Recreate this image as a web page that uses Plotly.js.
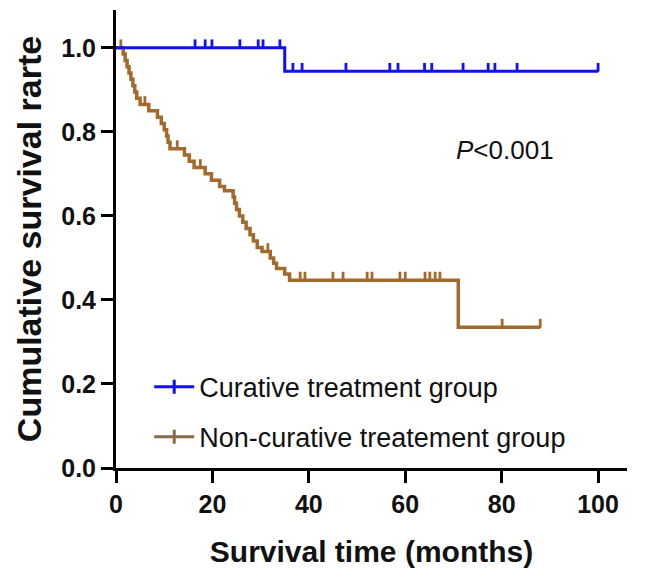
<!DOCTYPE html>
<html>
<head>
<meta charset="utf-8">
<script src="https://cdn.plot.ly/plotly-3.0.1.min.js"></script>
<style>html,body{margin:0;padding:0;background:#fff;}#chart{width:646px;height:573px;}</style>
</head>
<body>
<div id="chart"></div>
<script>
// ---- Data ----
var seriesNames = ["Curative treatment group", "Non-curative treatement group"];

// Curative group: event times (months) and survival after each event
var curEventTimes = [35];
var curSurvival = [0.944];
var curCensorTimes = [16.4, 18.5, 19.9, 25.7, 29.5, 30.5, 34, 36.7, 38.6, 47.7, 56.8, 58.5, 64, 65.5, 72, 77.2, 78.6, 83.2, 100];

// Non-curative group: event times (months) and survival after each event
var nonEventTimes = [1.5, 1.9, 2.3, 2.7, 3.1, 3.5, 3.9, 4.3, 5.0, 6.8, 8.6, 9.4, 10.0, 10.5, 10.8, 11.2, 14.2, 15.2, 16.2, 18.5, 19.8, 21.5, 22.5, 24.3, 24.6, 25.0, 25.6, 26.3, 27.0, 27.8, 28.5, 29.3, 30.3, 32.0, 32.7, 33.3, 35.0, 36.0, 71.0];
var nonSurvival = [0.985, 0.97, 0.955, 0.94, 0.925, 0.91, 0.895, 0.88, 0.865, 0.85, 0.835, 0.82, 0.805, 0.79, 0.775, 0.76, 0.745, 0.73, 0.715, 0.70, 0.685, 0.67, 0.66, 0.645, 0.63, 0.615, 0.60, 0.585, 0.57, 0.555, 0.54, 0.525, 0.515, 0.50, 0.487, 0.475, 0.462, 0.447, 0.335];
var nonCensorTimes = [1.0, 6.0, 12.7, 17.5, 31.5, 38.2, 39.2, 45, 47.1, 52.1, 53.1, 58.9, 60, 64.1, 65.1, 66.2, 67.2, 80.1, 88];

var xTicks = [0, 20, 40, 60, 80, 100];
var yTicks = [0, 0.2, 0.4, 0.6, 0.8, 1.0];
var pText = "<i>P</i>&lt;0.001";

// ---- Styles ----
var blue = "#1010f0";
var brown = "#a26a2c";
var fontFam = "Liberation Sans, Arial, Helvetica, sans-serif";
var tickUp = 0.02;

function stepSeries(times, surv, censors) {
  var last = Math.max.apply(null, censors.concat(times));
  var x = [0].concat(times);
  var y = [1].concat(surv);
  x.push(last);
  y.push(surv[surv.length - 1]);
  return {x: x, y: y};
}
function survAt(times, surv, t) {
  var s = 1;
  for (var i = 0; i < times.length; i++) { if (times[i] <= t) s = surv[i]; }
  return s;
}
function censorTrace(times, surv, censors, color) {
  return {
    x: censors,
    y: censors.map(function (t) { return survAt(times, surv, t); }),
    mode: "markers", type: "scatter", showlegend: false, hoverinfo: "skip",
    marker: {size: 2, color: color},
    error_y: {type: "data", symmetric: false,
      array: censors.map(function () { return tickUp; }),
      arrayminus: censors.map(function () { return 0; }),
      width: 0, thickness: 2.8, color: color}
  };
}

var curStep = stepSeries(curEventTimes, curSurvival, curCensorTimes);
var nonStep = stepSeries(nonEventTimes, nonSurvival, nonCensorTimes);

var traces = [
  {x: nonStep.x, y: nonStep.y, mode: "lines", type: "scatter", line: {shape: "hv", color: brown, width: 3.5}, showlegend: false, hoverinfo: "skip"},
  censorTrace(nonEventTimes, nonSurvival, nonCensorTimes, brown),
  {x: curStep.x, y: curStep.y, mode: "lines", type: "scatter", line: {shape: "hv", color: blue, width: 3}, showlegend: false, hoverinfo: "skip"},
  censorTrace(curEventTimes, curSurvival, curCensorTimes, blue),
  {x: [null], y: [null], mode: "lines+markers", type: "scatter", name: seriesNames[0], legendgroup: "a",
   line: {color: blue, width: 3}, marker: {symbol: "line-ns-open", size: 10, color: blue, line: {width: 3, color: blue}}},
  {x: [null], y: [null], mode: "lines+markers", type: "scatter", name: seriesNames[1], legendgroup: "b",
   line: {color: "#8a6a48", width: 3}, marker: {symbol: "line-ns-open", size: 10, color: "#8a6a48", line: {width: 3, color: "#8a6a48"}}}
];

var layout = {
  width: 646, height: 573,
  margin: {l: 116, r: 19, t: 10, b: 105},
  paper_bgcolor: "#fff", plot_bgcolor: "#fff",
  font: {family: fontFam, color: "#111"},
  showlegend: true,
  legend: {x: 0.065, y: 0.23, xanchor: "left", yanchor: "top", bgcolor: "rgba(0,0,0,0)",
    font: {size: 27, family: fontFam, color: "#111"}, tracegroupgap: 12, itemwidth: 40},
  xaxis: {range: [0, 106], tickvals: xTicks, ticks: "outside", ticklen: 12, tickwidth: 3, tickcolor: "#000",
    showline: true, linewidth: 3, linecolor: "#000", showgrid: false, zeroline: false,
    tickfont: {size: 25, weight: "bold", family: fontFam, color: "#111"},
    title: {text: "Survival time (months)", font: {size: 30, weight: "bold", family: fontFam, color: "#111"}, standoff: 24}},
  yaxis: {range: [0, 1.09], tickvals: yTicks, tickformat: ".1f", ticks: "outside", ticklen: 12, tickwidth: 3, tickcolor: "#000",
    showline: true, linewidth: 3, linecolor: "#000", showgrid: false, zeroline: false,
    tickfont: {size: 25, weight: "bold", family: fontFam, color: "#111"},
    title: {text: "Cumulative survival rarte", font: {size: 34, weight: "bold", family: fontFam, color: "#111"}, standoff: 10}},
  annotations: [{x: 80.7, y: 0.758, xref: "x", yref: "y", text: pText, showarrow: false,
    font: {size: 26, family: fontFam, color: "#111"}}]
};

Plotly.newPlot("chart", traces, layout, {displayModeBar: false, staticPlot: true});
</script>
</body>
</html>
